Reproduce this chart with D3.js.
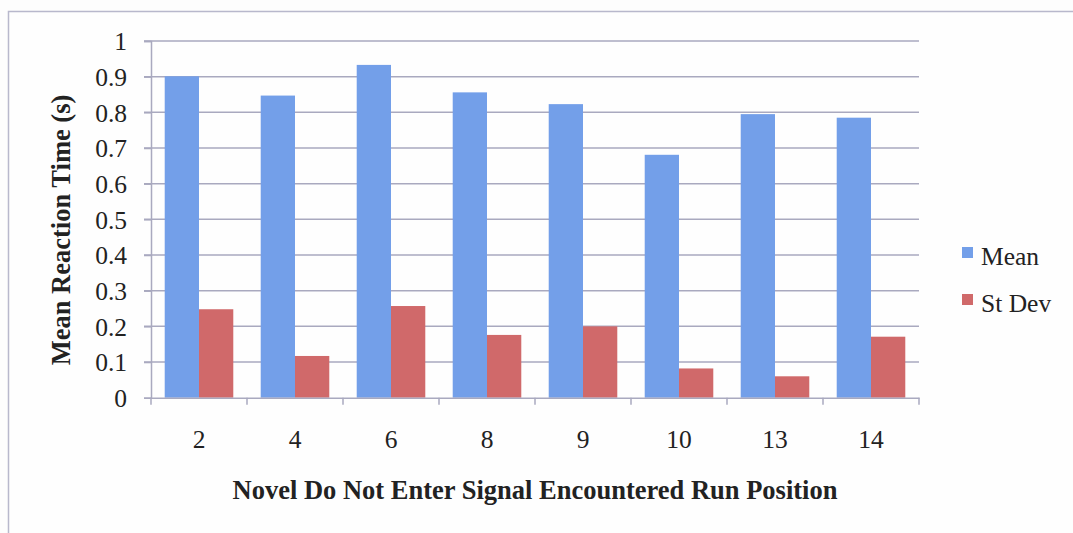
<!DOCTYPE html>
<html><head><meta charset="utf-8">
<script src="https://cdn.jsdelivr.net/npm/d3@7"></script>
<style>body{margin:0;background:#fdfdfd;} svg{display:block;} svg text{font-family:"Liberation Serif","Times New Roman",serif !important;}</style>
</head><body>
<svg id="c" width="1073" height="533"></svg>
<script>
const categories = ["2","4","6","8","9","10","13","14"];
const meanValues = [0.901, 0.847, 0.933, 0.856, 0.823, 0.681, 0.795, 0.785];
const stdValues  = [0.248, 0.117, 0.257, 0.176, 0.200, 0.082, 0.060, 0.171];
const seriesNames = ["Mean", "St Dev"];
const seriesColors = ["#739fe9", "#d0696a"];
const yTicks = [0,0.1,0.2,0.3,0.4,0.5,0.6,0.7,0.8,0.9,1];

const svg = d3.select("#c");
const font = "Liberation Serif";
const FS = 25.5, TFS = 26.5;
const L = 151, R = 919, T = 41, B = 397.7;

svg.append("rect").attr("x",8.5).attr("y",11.5).attr("width",1080).attr("height",540)
  .attr("fill","#fefefe").attr("stroke","#b8b8cc").attr("stroke-width",1.5);

const x = d3.scaleBand().domain(categories).range([L, R]).paddingInner(0).paddingOuter(0);
const xs = d3.scaleBand().domain(seriesNames).range([0, x.bandwidth()]).paddingInner(0).paddingOuter(0.4);
const y = d3.scaleLinear().domain([0,1]).range([B, T]);

// gridlines
svg.append("g").selectAll("line").data(yTicks.slice(1)).join("line")
  .attr("x1", L-7).attr("x2", R).attr("y1", d=>y(d)).attr("y2", d=>y(d))
  .attr("stroke","#a9a9bf").attr("stroke-width",1.5);

// bars
const data = categories.map((c,i)=>({c, vals:[meanValues[i], stdValues[i]]}));
const g = svg.append("g").selectAll("g").data(data).join("g")
  .attr("transform", d=>`translate(${x(d.c)},0)`);
g.selectAll("rect").data(d=>d.vals.map((v,j)=>({v, s:seriesNames[j], j}))).join("rect")
  .attr("x", d=>xs(d.s)).attr("width", xs.bandwidth())
  .attr("y", d=>y(d.v)).attr("height", d=>B - y(d.v))
  .attr("fill", d=>seriesColors[d.j]);

// y axis
const yAxis = svg.append("g").attr("transform",`translate(${L},0)`)
  .call(d3.axisLeft(y).tickValues(yTicks).tickFormat(d3.format("~g")).tickSize(7).tickPadding(17));
yAxis.attr("font-family", font);
yAxis.select(".domain").attr("stroke","#a9a9bf").attr("stroke-width",1.5);
yAxis.selectAll(".tick line").attr("stroke","#a9a9bf").attr("stroke-width",1.5);
yAxis.selectAll("text").attr("font-size",FS).attr("fill","#222").attr("dy","0.35em");

// x axis
const xAxis = svg.append("g").attr("transform",`translate(0,${B})`)
  .call(d3.axisBottom(x).tickSize(0));
xAxis.attr("font-family", font);
xAxis.select(".domain").attr("stroke","#a9a9bf").attr("stroke-width",1.5);
xAxis.selectAll("text").attr("font-size",FS).attr("fill","#222")
  .attr("y", 448 - B).attr("dy", 0);
const bounds = categories.map(c=>x(c)).concat([R]);
svg.append("g").selectAll("line").data(bounds).join("line")
  .attr("x1",d=>d).attr("x2",d=>d).attr("y1",B).attr("y2",B+7)
  .attr("stroke","#a9a9bf").attr("stroke-width",1.5);

// axis titles
svg.append("text").attr("transform",`translate(70,230) rotate(-90)`)
  .attr("text-anchor","middle").attr("font-weight","bold")
  .attr("font-size",TFS).attr("fill","#222").text("Mean Reaction Time (s)");
svg.append("text").attr("x",535).attr("y",499)
  .attr("text-anchor","middle").attr("font-weight","bold")
  .attr("font-size",TFS).attr("fill","#222").text("Novel Do Not Enter Signal Encountered Run Position");

// legend
const lg = svg.append("g").selectAll("g").data(seriesNames).join("g")
  .attr("transform",(d,i)=>`translate(962,${247 + i*47})`);
lg.append("rect").attr("width",11).attr("height",11).attr("fill",(d,i)=>seriesColors[i]);
lg.append("text").attr("x",19).attr("y",18).attr("font-size",FS)
  .attr("fill","#222").text(d=>d);
</script>
</body></html>
